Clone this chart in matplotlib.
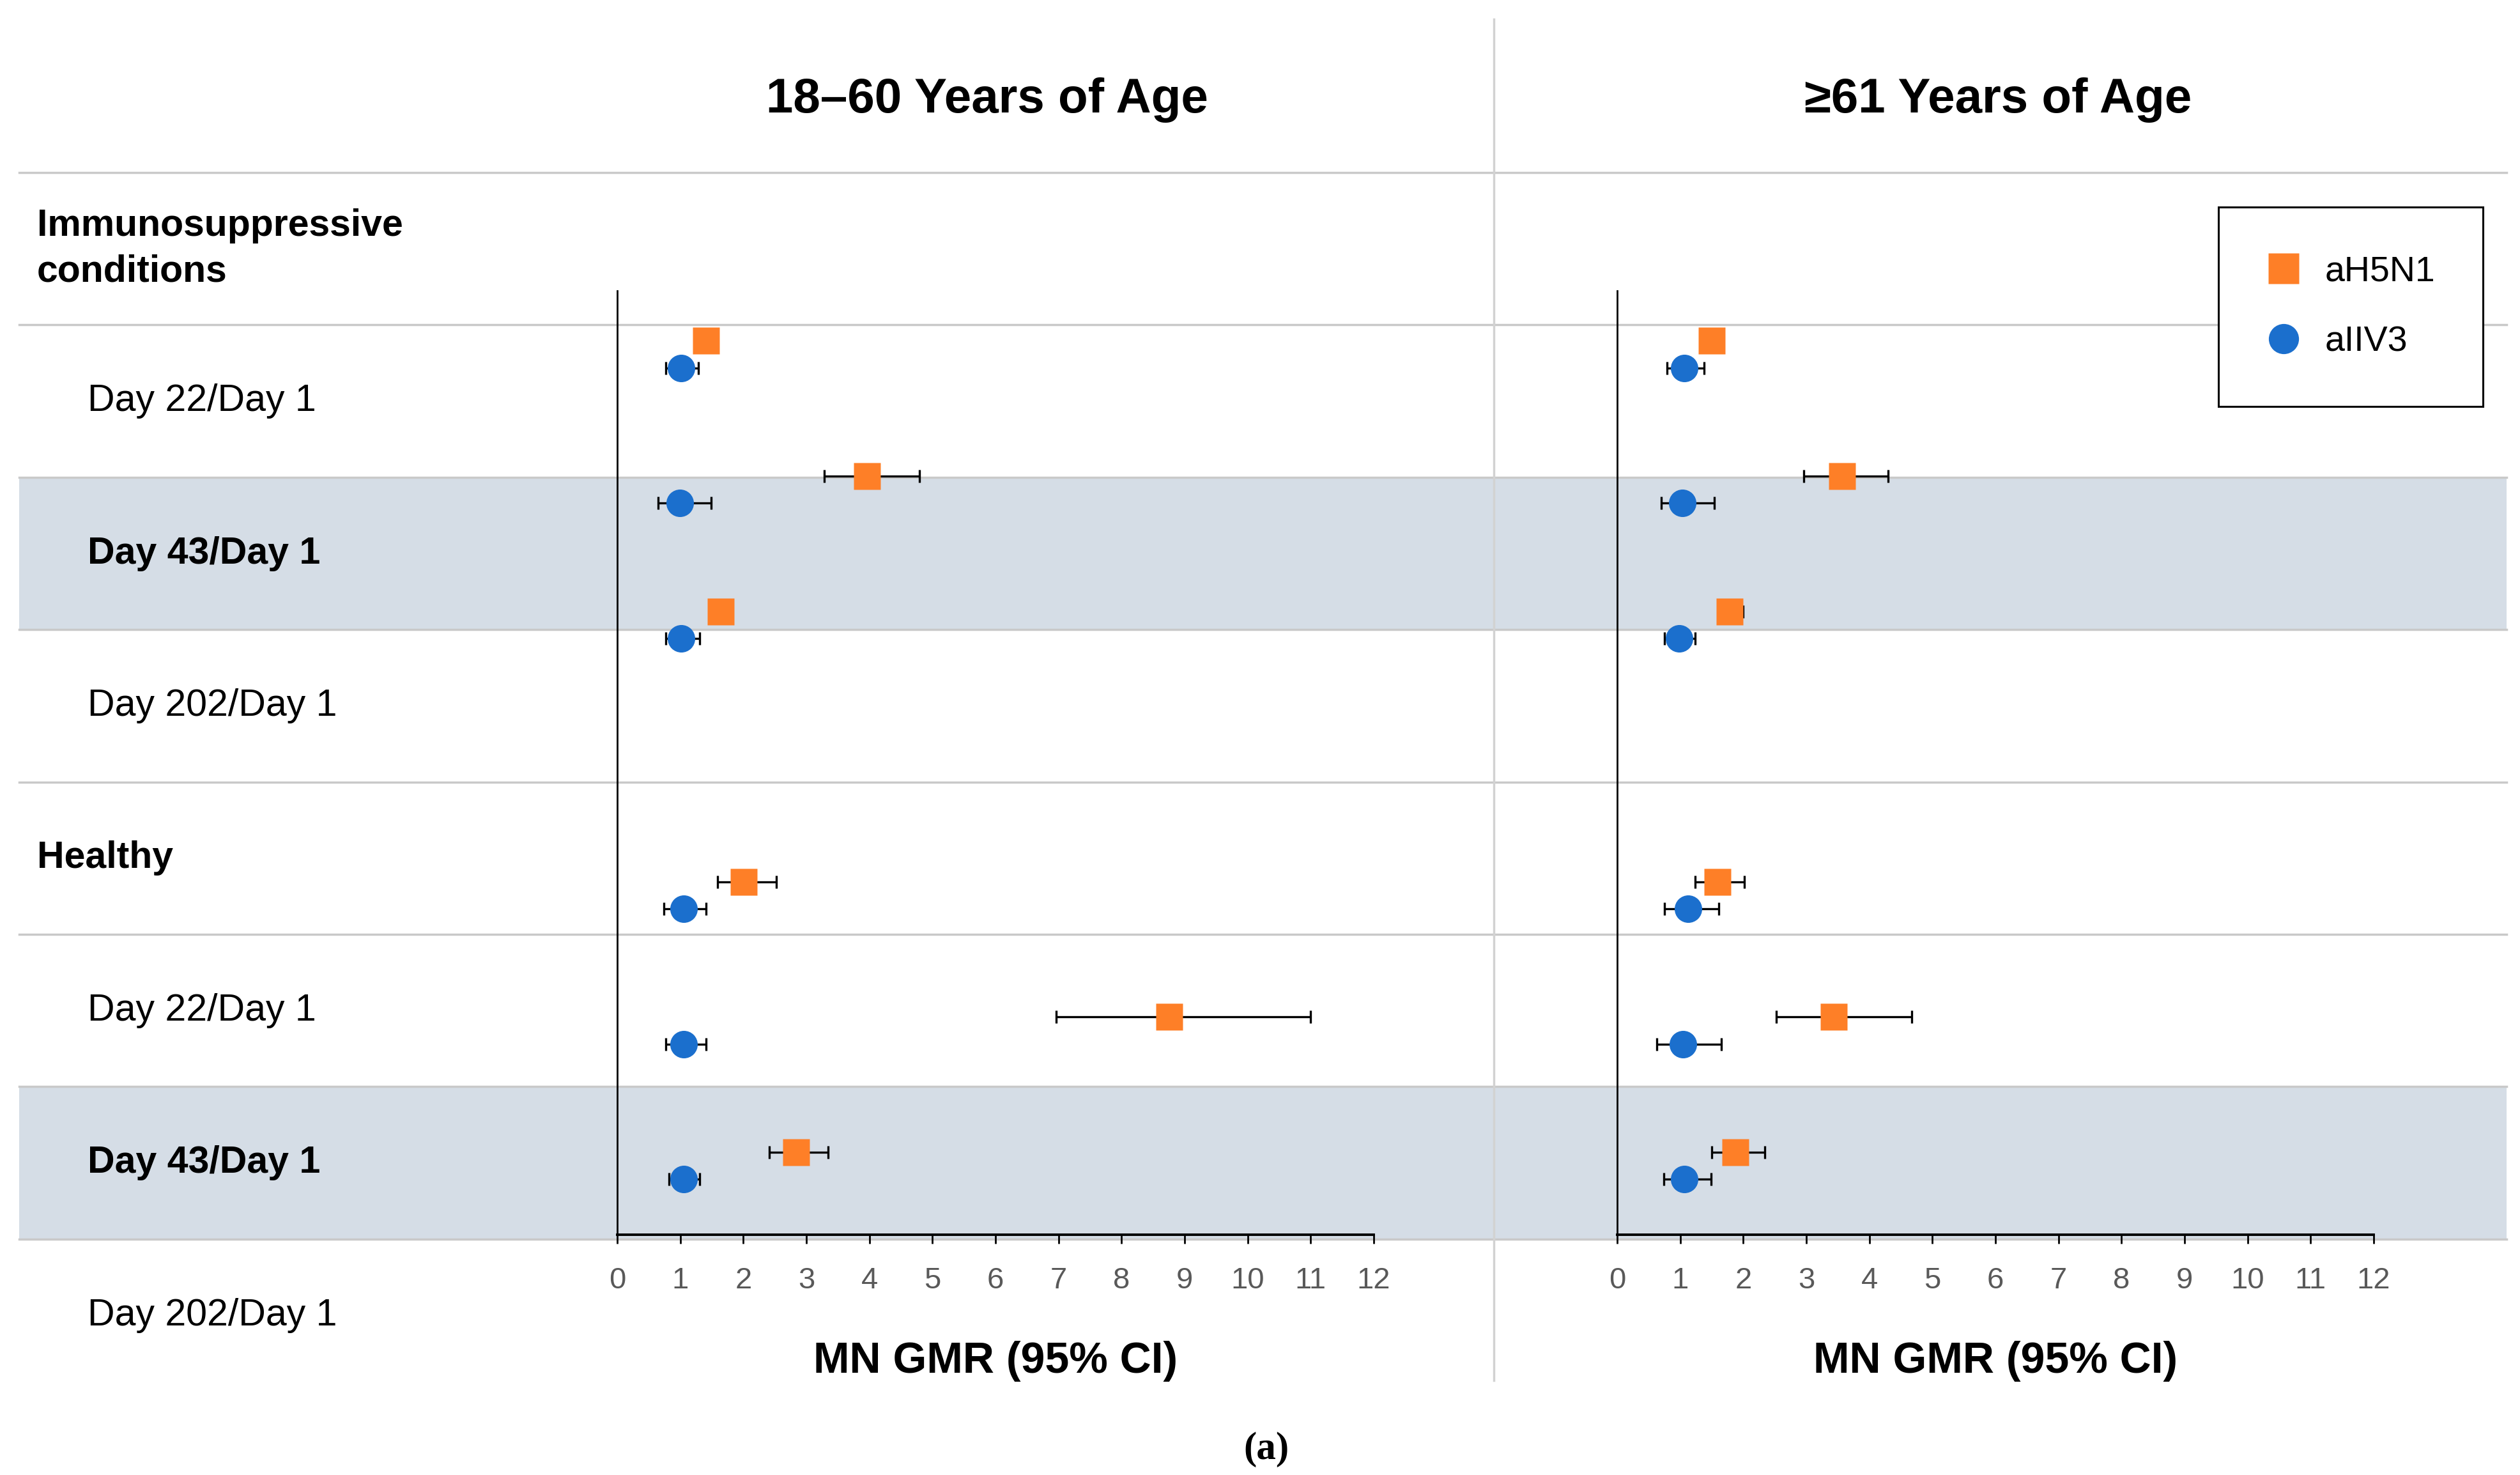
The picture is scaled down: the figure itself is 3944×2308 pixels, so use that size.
import matplotlib

matplotlib.use("Agg")
import matplotlib.pyplot as plt
from matplotlib.lines import Line2D

# --- categories ---
AGE_GROUPS = ["18–60 Years of Age", "≥61 Years of Age"]
POPULATIONS = ["Immunosuppressive\nconditions", "Healthy"]
TIMEPOINTS = ["Day 22/Day 1", "Day 43/Day 1", "Day 202/Day 1"]
VACCINES = ["aH5N1", "aIIV3"]
XTICKS = list(range(0, 13))

# --- MN GMR (95% CI), order: immuno D22, D43, D202, healthy D22, D43, D202 ---
H5N1_GMR_YOUNG = [1.41, 3.96, 1.64, 2.01, 8.76, 2.84]
H5N1_LO_YOUNG = [1.30, 3.28, 1.52, 1.59, 6.96, 2.41]
H5N1_HI_YOUNG = [1.53, 4.79, 1.78, 2.52, 11.00, 3.34]
IIV3_GMR_YOUNG = [1.01, 0.99, 1.01, 1.05, 1.05, 1.05]
IIV3_LO_YOUNG = [0.77, 0.65, 0.77, 0.74, 0.77, 0.82]
IIV3_HI_YOUNG = [1.29, 1.49, 1.31, 1.41, 1.41, 1.31]

H5N1_GMR_OLD = [1.50, 3.57, 1.78, 1.59, 3.44, 1.88]
H5N1_LO_OLD = [1.38, 2.96, 1.62, 1.24, 2.52, 1.50]
H5N1_HI_OLD = [1.62, 4.30, 2.00, 2.02, 4.67, 2.34]
IIV3_GMR_OLD = [1.06, 1.03, 0.98, 1.12, 1.04, 1.06]
IIV3_LO_OLD = [0.79, 0.70, 0.75, 0.75, 0.63, 0.74]
IIV3_HI_OLD = [1.38, 1.54, 1.24, 1.61, 1.65, 1.49]

# --- style ---
ORANGE, BLUE = "#fe7f27", "#1b6fcd"
BAND, RULE, DIVIDER, TICKC = "#d5dde6", "#c9c9c9", "#d2d2d2", "#595959"
SANS = ["Liberation Sans", "DejaVu Sans"]
plt.rcParams["font.family"] = SANS

W, H, DPI = 3944, 2308, 100
fig = plt.figure(figsize=(W / DPI, H / DPI), dpi=DPI)
fig.patch.set_facecolor("white")

# background layer in pixel coordinates (table rows, text)
bg = fig.add_axes([0, 0, 1, 1], zorder=0)
bg.set_xlim(0, W); bg.set_ylim(H, 0); bg.axis("off")

row_top, row_h = 270, 238.4
rows = []
for p in POPULATIONS:
    rows.append((p, 58, True))
    for t in TIMEPOINTS:
        rows.append((t, 137, t.startswith("Day 43")))
lines_y = [row_top + row_h * i for i in range(len(rows))]
for i, (txt, x, bold) in enumerate(rows):
    if txt.startswith("Day 43"):
        bg.fill_between([30, 3923], lines_y[i], lines_y[i] + row_h, color=BAND, lw=0, zorder=1)
for yy in lines_y:
    bg.plot([30, 3923], [yy, yy], color=RULE, lw=2.5, zorder=2)
for i, (txt, x, bold) in enumerate(rows):
    bg.text(x, lines_y[i] + row_h / 2, txt, ha="left", va="center", fontsize=42.5,
            fontweight="bold" if bold else "normal", linespacing=1.4, zorder=3)
bg.plot([2338, 2338], [30, 2160], color=DIVIDER, lw=2.5, zorder=3)

for cx, title in zip([1545, 3127], AGE_GROUPS):
    bg.text(cx, 156, title, ha="center", va="center", fontsize=55, fontweight="bold")
bg.text(1982, 2268, "(a)", ha="center", va="center", fontsize=44, fontweight="bold",
        family=["Liberation Serif", "DejaVu Serif"])

# data panels
slots = []
for gi in range(len(POPULATIONS)):
    for ti in range(len(TIMEPOINTS)):
        slots.append(gi * (len(TIMEPOINTS) + 1) + ti)

panels = [
    (966, H5N1_GMR_YOUNG, H5N1_LO_YOUNG, H5N1_HI_YOUNG, IIV3_GMR_YOUNG, IIV3_LO_YOUNG, IIV3_HI_YOUNG),
    (2531, H5N1_GMR_OLD, H5N1_LO_OLD, H5N1_HI_OLD, IIV3_GMR_OLD, IIV3_LO_OLD, IIV3_HI_OLD),
]
ax_top, ax_bot, ax_w = 455, 1932, 1184
for left, hg, hl, hh, bg_, bl, bh in panels:
    ax = fig.add_axes([left / W, (H - ax_bot) / H, ax_w / W, (ax_bot - ax_top) / H], zorder=2)
    ax.patch.set_alpha(0)
    for vals, lo, hi, off, mk, col, ms in [(hg, hl, hh, -0.1, "s", ORANGE, 30),
                                          (bg_, bl, bh, 0.1, "o", BLUE, 31)]:
        ys = [s + off for s in slots]
        err = [[v - l for v, l in zip(vals, lo)], [h - v for v, h in zip(vals, hi)]]
        ax.errorbar(vals, ys, xerr=err, fmt="none", ecolor="black", elinewidth=2.4,
                    capsize=7, capthick=2.4, zorder=2)
        ax.plot(vals, ys, mk, ms=ms, color=col, mec="none", zorder=3)
    ax.set_xlim(0, 12)
    ax.set_ylim(6.51, -0.47)
    ax.set_xticks(XTICKS)
    ax.set_yticks([])
    ax.tick_params(axis="x", length=10, width=2, pad=26, labelsize=34, labelcolor=TICKC)
    for s in ("top", "right"):
        ax.spines[s].set_visible(False)
    ax.spines["left"].set_linewidth(2)
    ax.spines["bottom"].set_linewidth(2.8)
    ax.set_xlabel("MN GMR (95% CI)", fontsize=49, fontweight="bold", labelpad=52)

handles = [Line2D([], [], marker="s", ls="none", ms=34, color=ORANGE, mec="none"),
           Line2D([], [], marker="o", ls="none", ms=34, color=BLUE, mec="none")]
leg = fig.legend(handles, VACCINES, loc="upper right", bbox_to_anchor=(3886 / W, 1 - 324 / H),
                 fontsize=40, frameon=True, fancybox=False, framealpha=1, edgecolor="black",
                 borderpad=1.35, labelspacing=1.05, handlelength=1.0, handletextpad=0.65,
                 borderaxespad=0)
leg.get_frame().set_linewidth(2.2)

fig.savefig("out.png", dpi=DPI, facecolor="white")
